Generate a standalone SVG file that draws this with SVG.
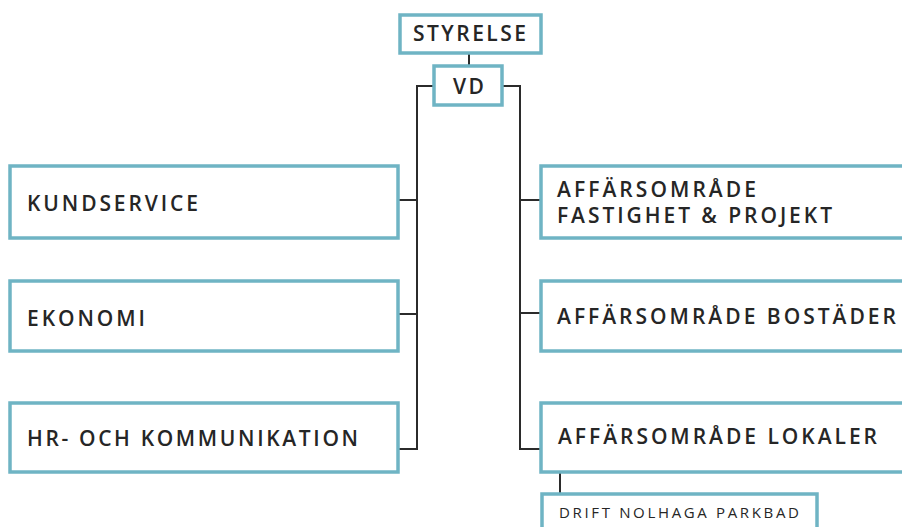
<svg xmlns="http://www.w3.org/2000/svg" width="902" height="527" viewBox="0 0 902 527">
<style>
.box{fill:#fff;stroke:#6fb4c4;stroke-width:3.5}
.ln{fill:none;stroke:#2b2b2b;stroke-width:2}
.t{font-family:"Open Sans","Noto Sans","Liberation Sans",sans-serif;font-size:21px;font-weight:600;fill:#262626;letter-spacing:1px}
.s{font-size:15px;font-weight:500}
</style>
<rect width="902" height="527" fill="#fff"/>
<g id="connectors">
<line class="ln" x1="469" y1="53" x2="469" y2="66"/>
<polyline class="ln" points="434,86 417,86 417,449 398,449"/>
<line class="ln" x1="398" y1="200" x2="417" y2="200"/>
<line class="ln" x1="398" y1="314" x2="417" y2="314"/>
<polyline class="ln" points="502,86 520,86 520,449 541,449"/>
<line class="ln" x1="520" y1="200" x2="541" y2="200"/>
<line class="ln" x1="520" y1="313" x2="541" y2="313"/>
<line class="ln" x1="560" y1="473" x2="560" y2="493"/>
</g>
<g id="styrelse">
<rect class="box" x="400" y="15" width="141" height="38"/>
<text class="t" x="413" y="41" textLength="114" lengthAdjust="spacing">STYRELSE</text>
</g>
<g id="vd">
<rect class="box" x="434" y="66" width="68" height="39"/>
<text class="t" x="453" y="94" textLength="32" lengthAdjust="spacing">VD</text>
</g>
<g id="kundservice">
<rect class="box" x="10" y="166" width="388" height="72"/>
<text class="t" x="27" y="211" textLength="172" lengthAdjust="spacing">KUNDSERVICE</text>
</g>
<g id="ekonomi">
<rect class="box" x="10" y="281" width="388" height="70"/>
<text class="t" x="27" y="326" textLength="119" lengthAdjust="spacing">EKONOMI</text>
</g>
<g id="hr">
<rect class="box" x="10" y="403" width="388" height="69"/>
<text class="t" x="27" y="446" textLength="332" lengthAdjust="spacing">HR- OCH KOMMUNIKATION</text>
</g>
<g id="fastighet">
<rect class="box" x="541" y="166" width="380" height="72"/>
<text class="t" x="557" y="197" textLength="200" lengthAdjust="spacing">AFFÄRSOMRÅDE</text>
<text class="t" x="557" y="223" textLength="276" lengthAdjust="spacing">FASTIGHET &amp; PROJEKT</text>
</g>
<g id="bostader">
<rect class="box" x="541" y="281" width="380" height="70"/>
<text class="t" x="557" y="324" textLength="340" lengthAdjust="spacing">AFFÄRSOMRÅDE BOSTÄDER</text>
</g>
<g id="lokaler">
<rect class="box" x="541" y="403" width="380" height="69"/>
<text class="t" x="558" y="444" textLength="320" lengthAdjust="spacing">AFFÄRSOMRÅDE LOKALER</text>
</g>
<g id="drift">
<rect class="box" x="542" y="494" width="275" height="50"/>
<text class="t s" x="559" y="518" textLength="241" lengthAdjust="spacing">DRIFT NOLHAGA PARKBAD</text>
</g>
</svg>
